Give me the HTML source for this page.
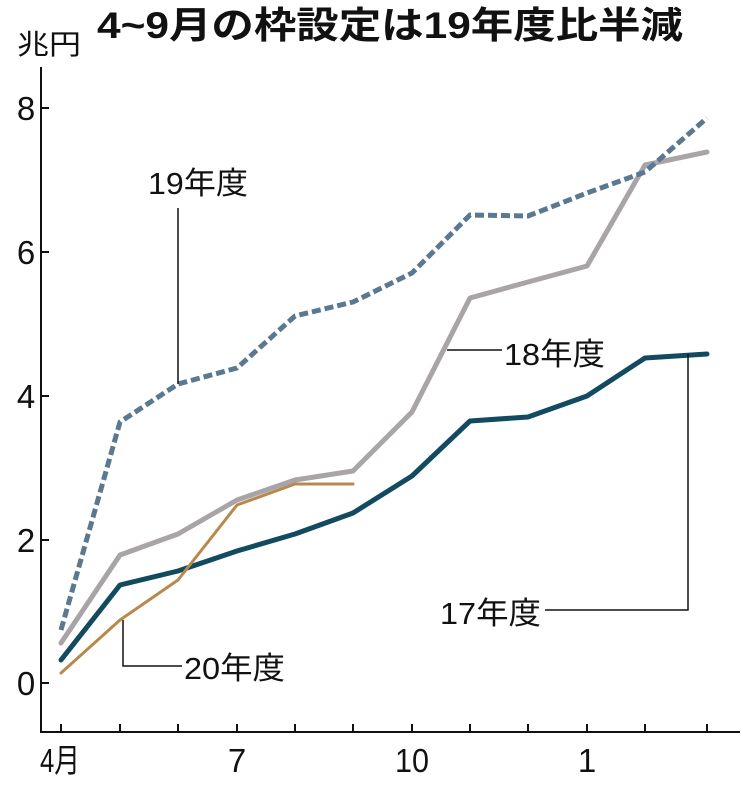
<!DOCTYPE html>
<html><head><meta charset="utf-8"><style>
body{margin:0;background:#fff}
svg text{font-family:"Liberation Sans","Noto Sans CJK JP",sans-serif}
</style></head><body>
<svg width="743" height="787" viewBox="0 0 743 787" xmlns="http://www.w3.org/2000/svg">
<text x="97" y="38" font-size="37" font-weight="bold" textLength="586" lengthAdjust="spacingAndGlyphs" fill="#111">4~9月の枠設定は19年度比半減</text>
<text x="17" y="54" font-size="28" fill="#111" textLength="64" lengthAdjust="spacingAndGlyphs">兆円</text>
<g stroke="#111" stroke-width="2" fill="none">
<path d="M41 67V732H740"/>
<path d="M41 108h8M41 252h8M41 396h8M41 540h8M41 683h8"/>
<path d="M61 732v-8M120 732v-8M178 732v-8M237 732v-8M295 732v-8M353 732v-8M412 732v-8M470 732v-8M528 732v-8M587 732v-8M645 732v-8M707 732v-8"/>
</g>
<g font-size="33" fill="#111" text-anchor="middle">
<text x="26" y="120">8</text><text x="26" y="264">6</text><text x="26" y="408">4</text><text x="26" y="552">2</text><text x="26" y="695">0</text>
<text x="60" y="772" textLength="40" lengthAdjust="spacingAndGlyphs">4月</text><text x="237" y="772">7</text><text x="412" y="772" textLength="34" lengthAdjust="spacingAndGlyphs">10</text><text x="587" y="772">1</text>
</g>
<g fill="none" stroke-linejoin="round" stroke-linecap="round">
<polyline stroke="#a9a4a8" stroke-width="5" points="61,643 120,555 178,534 237,500 295,480 353,471 412,412 470,298 528,282 587,266 645,165 707,152"/>
<polyline stroke="#5a7890" stroke-width="5" stroke-dasharray="9,4" stroke-linecap="butt" points="61,630 120,422 178,384 237,368 295,316 353,302 412,273 470,215 528,216 587,193 645,172 707,118"/>
<polyline stroke="#124a60" stroke-width="5" points="61,660 120,585 178,571 237,551 295,534 353,513 412,476 470,421 528,417 587,396 645,358 707,354"/>
<polyline stroke="#b8894a" stroke-width="3" points="61,673 120,620 178,580 237,505 295,484 353,484"/>
</g>
<g stroke="#111" stroke-width="1.5" fill="none">
<path d="M178 208V384"/>
<path d="M447 350H502"/>
<path d="M545 610H688V354"/>
<path d="M123 620V666H182"/>
</g>
<g font-size="31" fill="#111">
<text x="148" y="194" textLength="100" lengthAdjust="spacingAndGlyphs">19年度</text>
<text x="504" y="365" textLength="101" lengthAdjust="spacingAndGlyphs">18年度</text>
<text x="440" y="624" textLength="101" lengthAdjust="spacingAndGlyphs">17年度</text>
<text x="184" y="679" textLength="101" lengthAdjust="spacingAndGlyphs">20年度</text>
</g>
</svg>
</body></html>
